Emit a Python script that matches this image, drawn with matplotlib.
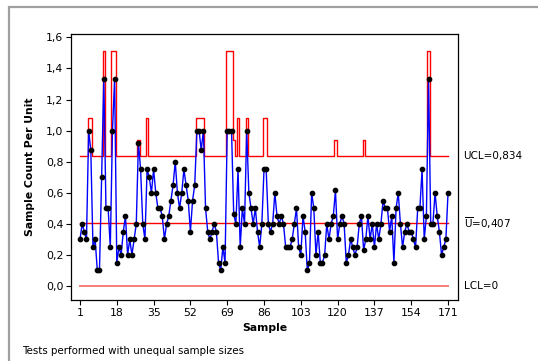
import numpy as np
import matplotlib
matplotlib.use("Agg")
import matplotlib.pyplot as plt
from matplotlib.patches import Rectangle
from matplotlib.ticker import FuncFormatter
import matplotlib.transforms as mtransforms

# defects per unit for each sample
u_values = [
    0.30, 0.40, 0.35, 0.30, 1.00, 0.875, 0.25, 0.30, 0.10, 0.10,
    0.70, 1.333, 0.50, 0.50, 0.25, 1.00, 1.333, 0.15, 0.25, 0.20,
    0.35, 0.45, 0.20, 0.30, 0.20, 0.30, 0.40, 0.923, 0.75, 0.40,
    0.30, 0.75, 0.70, 0.60, 0.75, 0.60, 0.50, 0.50, 0.45, 0.30,
    0.40, 0.45, 0.55, 0.65, 0.80, 0.60, 0.50, 0.60, 0.75, 0.65,
    0.55, 0.35, 0.55, 0.65, 1.00, 1.00, 0.875, 1.00, 0.50, 0.35,
    0.30, 0.35, 0.40, 0.35, 0.15, 0.10, 0.25, 0.15, 1.00, 1.00,
    1.00, 0.462, 0.40, 0.75, 0.25, 0.50, 0.40, 1.00, 0.60, 0.50,
    0.40, 0.50, 0.35, 0.25, 0.40, 0.75, 0.75, 0.40, 0.35, 0.40,
    0.60, 0.45, 0.40, 0.45, 0.40, 0.25, 0.25, 0.25, 0.30, 0.40,
    0.50, 0.25, 0.20, 0.45, 0.35, 0.10, 0.15, 0.60, 0.50, 0.20,
    0.35, 0.15, 0.15, 0.20, 0.40, 0.30, 0.40, 0.45, 0.615, 0.30,
    0.40, 0.45, 0.40, 0.15, 0.20, 0.30, 0.25, 0.20, 0.25, 0.40,
    0.45, 0.231, 0.30, 0.45, 0.30, 0.40, 0.25, 0.40, 0.30, 0.40,
    0.55, 0.50, 0.50, 0.35, 0.45, 0.15, 0.50, 0.60, 0.40, 0.25,
    0.35, 0.40, 0.35, 0.35, 0.30, 0.25, 0.50, 0.50, 0.75, 0.30,
    0.45, 1.333, 0.40, 0.40, 0.60, 0.45, 0.35, 0.20, 0.25, 0.30,
    0.60,
]

# sample sizes (units inspected per sample)
sizes = [
    20, 20, 20, 20, 8, 8, 20, 20, 20, 20,
    20, 3, 20, 20, 20, 3, 3, 20, 20, 20,
    20, 20, 20, 20, 20, 20, 20, 13, 20, 20,
    20, 8, 20, 20, 20, 20, 20, 20, 20, 20,
    20, 20, 20, 20, 20, 20, 20, 20, 20, 20,
    20, 20, 20, 20, 8, 8, 8, 8, 20, 20,
    20, 20, 20, 20, 20, 20, 20, 20, 3, 3,
    3, 13, 20, 8, 20, 20, 20, 8, 20, 20,
    20, 20, 20, 20, 20, 8, 8, 20, 20, 20,
    20, 20, 20, 20, 20, 20, 20, 20, 20, 20,
    20, 20, 20, 20, 20, 20, 20, 20, 20, 20,
    20, 20, 20, 20, 20, 20, 20, 20, 13, 20,
    20, 20, 20, 20, 20, 20, 20, 20, 20, 20,
    20, 13, 20, 20, 20, 20, 20, 20, 20, 20,
    20, 20, 20, 20, 20, 20, 20, 20, 20, 20,
    20, 20, 20, 20, 20, 20, 20, 20, 20, 20,
    20, 3, 20, 20, 20, 20, 20, 20, 20, 20,
    20,
]

u_bar = 0.407
x_ticks = [1, 18, 35, 52, 69, 86, 103, 120, 137, 154, 171]
y_ticks = [0.0, 0.2, 0.4, 0.6, 0.8, 1.0, 1.2, 1.4, 1.6]

samples = np.arange(1, len(u_values) + 1)
n = np.array(sizes, dtype=float)
ucl = u_bar + 3 * np.sqrt(u_bar / n)
lcl = np.clip(u_bar - 3 * np.sqrt(u_bar / n), 0, None)

plt.rcParams['font.family'] = 'DejaVu Sans'
plt.rcParams['mathtext.fontset'] = 'dejavusans'

fig = plt.figure(figsize=(5.38, 3.61), dpi=100)
ax = fig.add_axes([71 / 538, 1 - 300 / 361, (458 - 71) / 538, (300 - 33.5) / 361])

# gray frame round the graph
fig.patches.append(Rectangle((9.3 / 538, -0.2), 1.2, 0.2 + (1 - 7.3 / 361),
                             transform=fig.transFigure, fill=False,
                             edgecolor='#a0a0a0', lw=1.6))

ax.step(samples, ucl, where='mid', color='#ff0000', lw=1.0, zorder=2)
ax.plot([samples[0], samples[-1]], [u_bar, u_bar], color='#ff0000', lw=1.0, zorder=2)
ax.step(samples, lcl, where='mid', color='#f47c7c', lw=1.4, zorder=2)

ax.plot(samples, u_values, color='#0000ff', lw=1.0, marker='o',
        markersize=3.1, markerfacecolor='black', markeredgecolor='black', zorder=3)

ax.set_xlim(-3.15, 175.6)
ax.set_ylim(-0.09, 1.625)
ax.set_xticks(x_ticks)
ax.set_yticks(y_ticks)
ax.yaxis.set_major_formatter(FuncFormatter(lambda v, p: f"{v:.1f}".replace('.', ',')))
ax.tick_params(direction='out', length=3.5, width=0.8, labelsize=7.8, pad=2)
for s in ax.spines.values():
    s.set_linewidth(0.9)
    s.set_color('black')

ax.set_xlabel('Sample', fontsize=7.8, fontweight='bold')
ax.set_ylabel('Sample Count Per Unit', fontsize=7.8, fontweight='bold')
ax.xaxis.set_label_coords(0.5, -0.088)
ax.yaxis.set_label_coords(-0.092, 0.5)

trans = mtransforms.blended_transform_factory(ax.transAxes, ax.transData)
lx = 1 + 5.5 / 387
ax.text(lx, u_bar + 3 * np.sqrt(u_bar / 20), 'UCL=0,834', transform=trans,
        fontsize=7.5, va='center', ha='left')
ax.text(lx, u_bar, r'$\overline{\mathrm{U}}$=0,407', transform=trans,
        fontsize=7.5, va='center', ha='left')
ax.text(lx, 0, 'LCL=0', transform=trans, fontsize=7.5, va='center', ha='left')

fig.text(22 / 538, 1 - 351 / 361, 'Tests performed with unequal sample sizes',
         fontsize=7.4, va='center', ha='left')

fig.savefig('out.png', dpi=100)
